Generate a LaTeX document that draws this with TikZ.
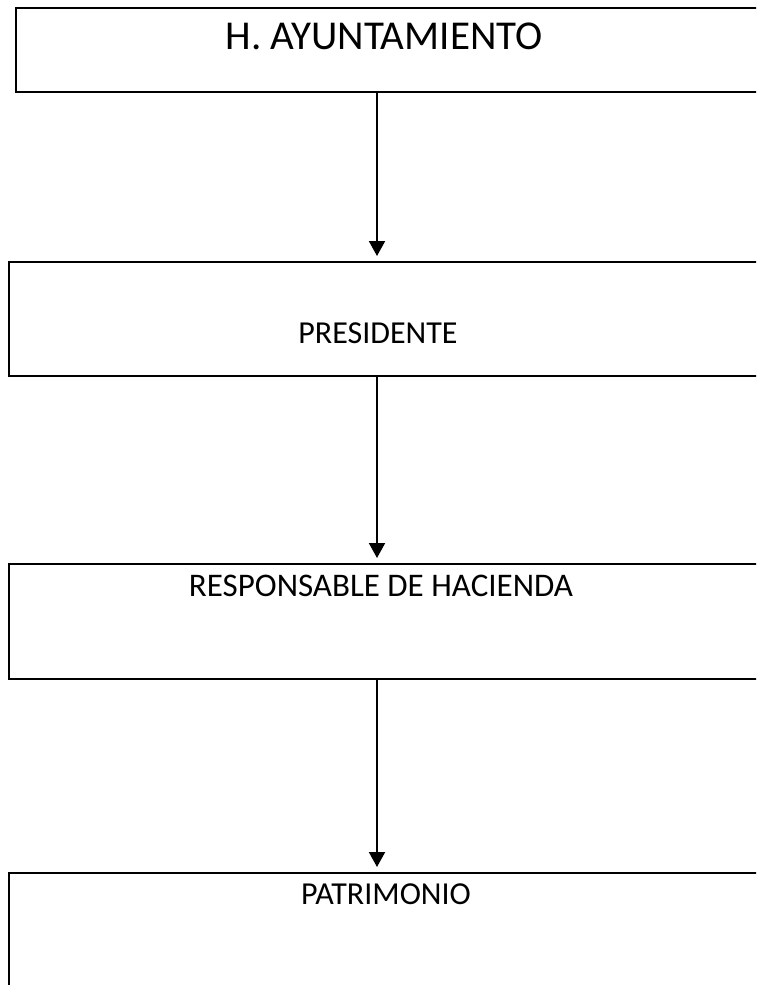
\documentclass[tikz,border=0pt]{standalone}
\usepackage{fontspec}
\setmainfont{Carlito}
\usetikzlibrary{arrows.meta,positioning,calc}

\begin{document}
\begin{tikzpicture}[x=1pt, y=-1pt,
    orgbox/.style={draw=black, line width=2pt, rectangle, inner sep=0pt},
    orgtext/.style={anchor=base, inner sep=0pt, font=\fontsize{32}{36}\selectfont},
    link/.style={line width=2pt, -{Triangle[length=15pt,width=16pt]}, shorten >=5pt}]
    \useasboundingbox (0,0) rectangle (756,985);
    \clip (0,0) rectangle (756,985);
    % boxes
    \node[orgbox, minimum width=754pt, minimum height=84pt] (ayto) at (393,50) {};
    \node[orgbox, minimum width=761pt, minimum height=114pt] (pres) at (389.5,319) {};
    \node[orgbox, minimum width=761pt, minimum height=115pt] (hac) at (389.5,621.5) {};
    \node[orgbox, minimum width=761pt, minimum height=130pt] (patr) at (389.5,938) {};
    % texts
    \node[orgtext, font=\fontsize{41}{45}\selectfont] (aytotxt) at (384,49) {H. AYUNTAMIENTO};
    \node[orgtext] (prestxt) at (378,343) {PRESIDENTE};
    \node[orgtext, font=\fontsize{33}{37}\selectfont] (hactxt) at (381,596) {RESPONSABLE DE HACIENDA};
    \node[orgtext] (patrtxt) at (386,904) {PATRIMONIO};
    % arrows
    \coordinate (ax) at (377,0);
    \draw[link] (ayto.south -| ax) -- (pres.north -| ax);
    \draw[link] (pres.south -| ax) -- (hac.north -| ax);
    \draw[link] (hac.south -| ax) -- (patr.north -| ax);
\end{tikzpicture}
\end{document}
